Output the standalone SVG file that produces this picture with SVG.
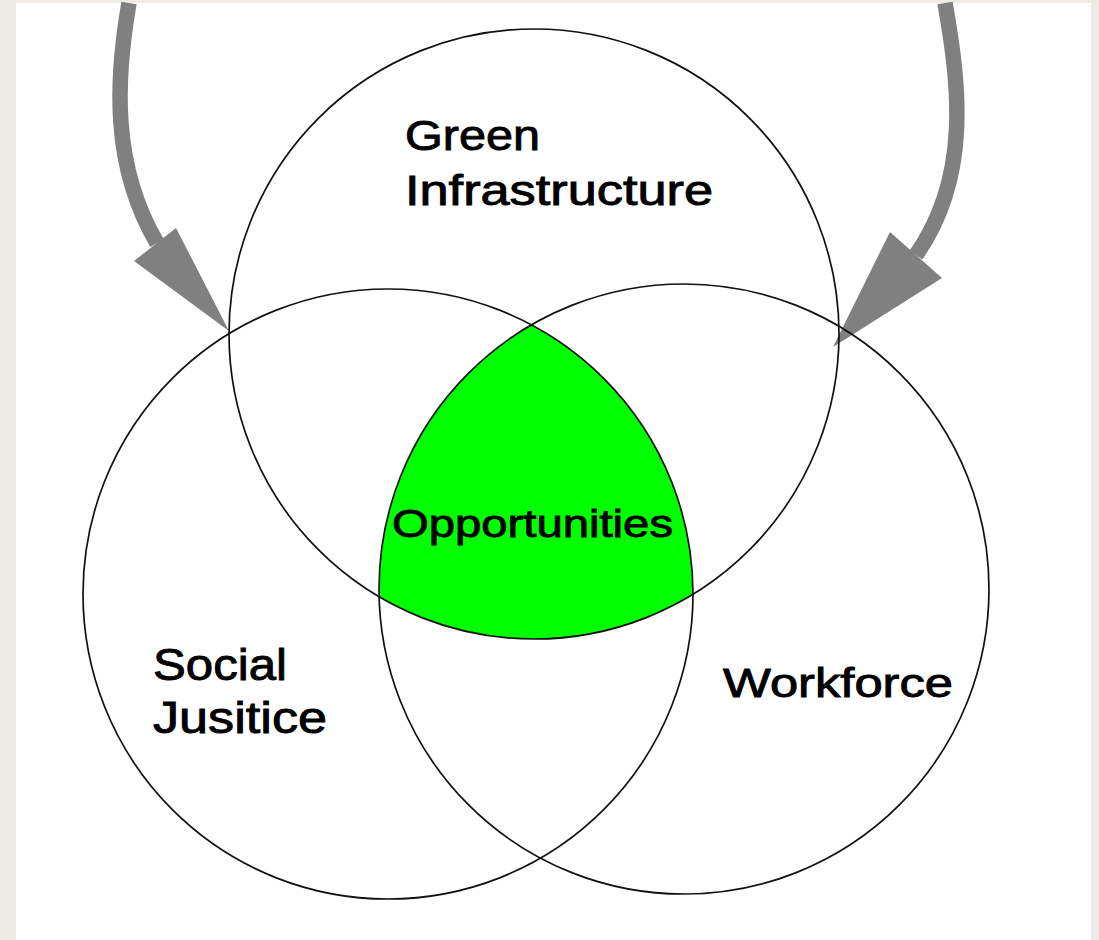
<svg xmlns="http://www.w3.org/2000/svg" width="1099" height="940" viewBox="0 0 1099 940">
  <style>
    .ring { fill: none; stroke: #111; stroke-width: 1.7; }
    .lbl { font-family: "Liberation Sans", Arial, sans-serif; fill: #000; stroke: #000; stroke-width: 0.9; }
    .shaft { fill: none; stroke: #808080; stroke-width: 15.5; }
    .head { fill: #808080; stroke: none; }
  </style>
  <rect x="0" y="0" width="1099" height="940" fill="#EEEBE4"/>
  <rect x="16" y="3" width="1075" height="937" fill="#FFFFFF"/>

  <g id="opportunities">
    <path d="M531.5,324.8 A305,305 0 0 1 692.9,594.2 A305,305 0 0 1 379.1,596.7 A305,305 0 0 1 531.5,324.8 Z" fill="#00FF00"/>
  </g>

  <g id="connectors">
    <path class="shaft" d="M129,3 C116,78 111,165 157,243"/>
    <polygon class="head" points="134,261 176,228 229,331"/>
    <path class="shaft" d="M945,3 C960,88 970,178 916,255"/>
    <polygon class="head" points="890,232 942,278 833,347"/>
  </g>

  <g id="green-infrastructure">
    <circle class="ring" cx="534" cy="334" r="305"/>
    <text class="lbl" font-size="42" x="405" y="150" textLength="135" lengthAdjust="spacingAndGlyphs">Green</text>
    <text class="lbl" font-size="42" x="405" y="205" textLength="308" lengthAdjust="spacingAndGlyphs">Infrastructure</text>
  </g>

  <g id="social-justice">
    <circle class="ring" cx="388" cy="594" r="305"/>
    <text class="lbl" font-size="44" x="153" y="680" textLength="134" lengthAdjust="spacingAndGlyphs">Social</text>
    <text class="lbl" font-size="44" x="153" y="733" textLength="174" lengthAdjust="spacingAndGlyphs">Jusitice</text>
  </g>

  <g id="workforce">
    <circle class="ring" cx="684" cy="589" r="305"/>
    <text class="lbl" font-size="41" x="723" y="697" textLength="230" lengthAdjust="spacingAndGlyphs">Workforce</text>
  </g>

  <g id="opportunities-label">
    <text class="lbl" font-size="38" x="392" y="537" textLength="281" lengthAdjust="spacingAndGlyphs">Opportunities</text>
  </g>
</svg>
